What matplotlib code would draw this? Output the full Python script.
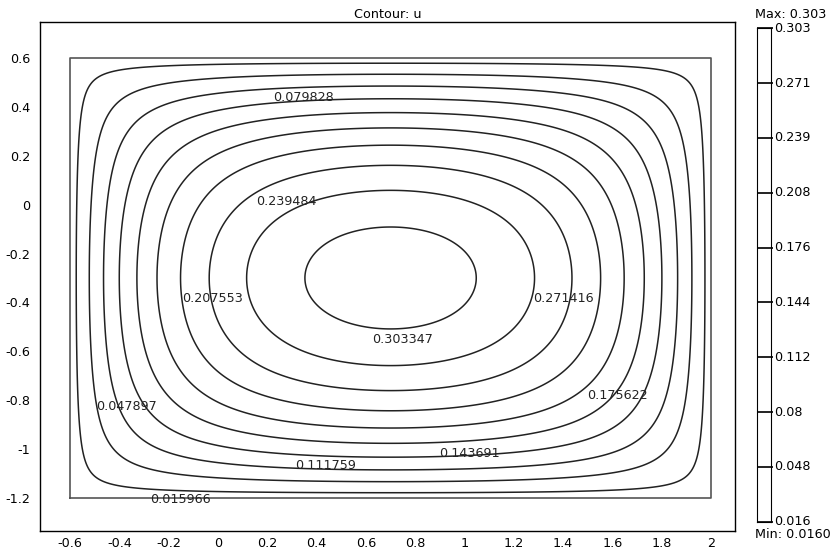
import numpy as np
import matplotlib
matplotlib.use("Agg")
import matplotlib.pyplot as plt

# domain and source term for -laplace(u) = f, u = 0 on the boundary
x_min, x_max = -0.6, 2.0
y_min, y_max = -1.2, 0.6
source = 1.0

# contour levels (as labelled)
levels = [0.015966, 0.047897, 0.079828, 0.111759, 0.143691,
          0.175622, 0.207553, 0.239484, 0.271416, 0.303347]
u_min_txt = "0.0160"
u_max_txt = "0.303"

xticks = [-0.6, -0.4, -0.2, 0, 0.2, 0.4, 0.6, 0.8, 1, 1.2, 1.4, 1.6, 1.8, 2]
yticks = [-1.2, -1, -0.8, -0.6, -0.4, -0.2, 0, 0.2, 0.4, 0.6]

# where the inline labels sit (left edge of text)
label_xy = {
    0.015966: (-0.275, -1.208),
    0.047897: (-0.495, -0.824),
    0.079828: (0.224, 0.44),
    0.111759: (0.313, -1.069),
    0.143691: (0.897, -1.02),
    0.175622: (1.497, -0.779),
    0.207553: (-0.146, -0.382),
    0.239484: (0.155, 0.011),
    0.271416: (1.278, -0.382),
    0.303347: (0.625, -0.55),
}


def poisson_rect(X, Y, a, b, f, n_terms=60):
    # strip solution minus a cosh series correction
    u = f * Y * (b - Y) / 2.0
    for m in range(1, 2 * n_terms, 2):
        coef = 4.0 * f * b**2 / (np.pi**3 * m**3)
        k = m * np.pi / b
        u -= coef * np.sin(k * Y) * np.cosh(k * (X - a / 2)) / np.cosh(k * a / 2)
    return u


xs = np.linspace(x_min, x_max, 700)
ys = np.linspace(y_min, y_max, 500)
XX, YY = np.meshgrid(xs, ys)
U = poisson_rect(XX - x_min, YY - y_min, x_max - x_min, y_max - y_min, source)

FS = 9.2
fig = plt.figure(figsize=(8.35, 5.51), dpi=100)
ax = fig.add_axes([40 / 835, 1 - 531 / 551, 695 / 835, 509 / 551])

ax.contour(XX, YY, U, levels=levels, colors="#222222", linewidths=1.1)
# geometry boundary
ax.plot([x_min, x_max, x_max, x_min, x_min],
        [y_min, y_min, y_max, y_max, y_min], color="#555555", lw=1.2)

for lev in levels:
    lx, ly = label_xy[lev]
    ax.text(lx, ly, f"{lev:.6f}", ha="left", va="center", fontsize=FS,
            color="#222222")

ax.set_xlim(-0.722, 2.097)
ax.set_ylim(-1.335, 0.747)
ax.set_xticks(xticks)
ax.set_xticklabels([f"{t:g}" for t in xticks])
ax.set_yticks(yticks)
ax.set_yticklabels([f"{t:g}" for t in yticks])
ax.tick_params(length=0, labelsize=FS)
ax.tick_params(axis="x", pad=4)
ax.tick_params(axis="y", pad=7)
for sp in ax.spines.values():
    sp.set_linewidth(1.0)
ax.set_title("Contour: u", fontsize=FS, pad=3)

# legend bar with one line per level
cb = fig.add_axes([756.7 / 835, 1 - 521.7 / 551, 14.3 / 835, 493.4 / 551])
cb.set_ylim(levels[0], levels[-1])
cb.set_xlim(0, 1)
cb.hlines(levels, 0, 1.15, color="#111111", lw=1.3, clip_on=False)
cb.set_xticks([])
cb.set_yticks([])
for lev in levels:
    cb.text(1.2, lev, f"{round(lev, 3):g}", transform=cb.get_yaxis_transform(),
            ha="left", va="center", fontsize=FS)
cb.text(-0.1, 1.015, f"Max: {u_max_txt}", transform=cb.transAxes,
        ha="left", va="bottom", fontsize=FS)
cb.text(-0.1, -0.012, f"Min: {u_min_txt}", transform=cb.transAxes,
        ha="left", va="top", fontsize=FS)

fig.savefig("out.png", dpi=100)
